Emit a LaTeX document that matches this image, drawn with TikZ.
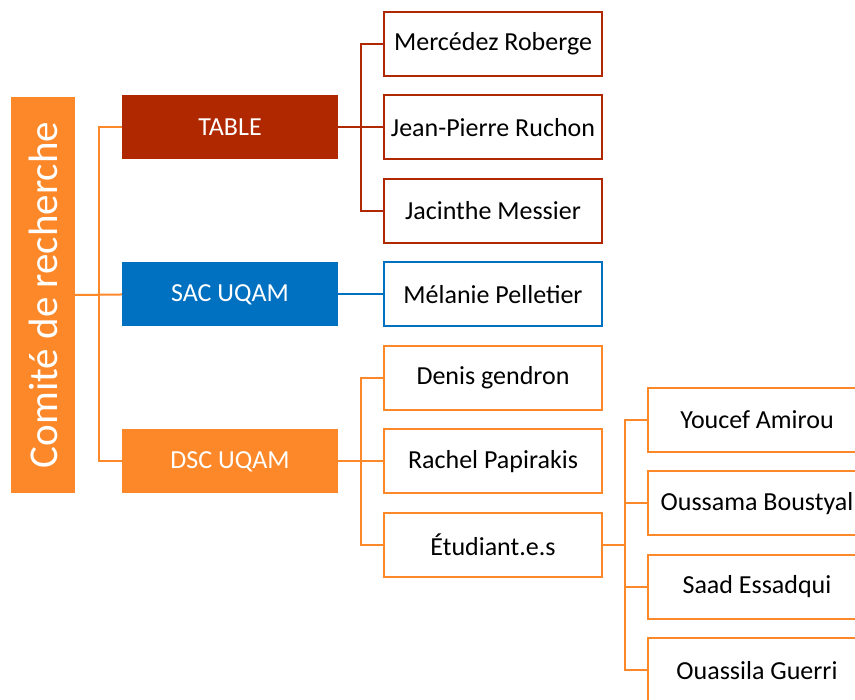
\documentclass[tikz,border=0pt]{standalone}
\usepackage{fontspec}
\setmainfont{Carlito}
\usepackage{xcolor}
\usetikzlibrary{shapes}
\definecolor{tablered}{RGB}{176,40,0}
\definecolor{sacblue}{RGB}{0,112,192}
\definecolor{dscorange}{RGB}{252,136,42}
\tikzstyle{rootbox} = [rectangle, rotate=90, minimum width=396pt, minimum height=64pt, text centered, fill=dscorange, text=white, font=\fontsize{41}{41}\selectfont]
\tikzstyle{groupbox} = [rectangle, minimum width=216pt, minimum height=64pt, text centered, text=white, font=\fontsize{26}{26}\selectfont]
\tikzstyle{namebox} = [rectangle, minimum width=218pt, minimum height=64pt, text centered, fill=white, line width=2pt, font=\fontsize{26}{26}\selectfont]
\tikzstyle{redline} = [line width=2pt, draw=tablered]
\tikzstyle{blueline} = [line width=2pt, draw=sacblue]
\tikzstyle{orangeline} = [line width=2pt, draw=dscorange]

\begin{document}
\begin{tikzpicture}[x=1pt, y=1pt, node distance=83.5pt]
\useasboundingbox (0,0) rectangle (855,700);
\clip (0,0) rectangle (855,700);
%
% Define nodes
%
\node (root) [rootbox] at (43,405) {Comité de recherche};
\node (table) [groupbox, fill=tablered, right of=root, xshift=103.5pt, yshift=167.5pt] {TABLE};
\node (sac) [groupbox, fill=sacblue, below of=table, yshift=-83.5pt] {SAC UQAM};
\node (dsc) [groupbox, fill=dscorange, below of=sac, yshift=-83.5pt] {DSC UQAM};
\node (jean) [namebox, draw=tablered, right of=table, xshift=179.5pt] {Jean-Pierre Ruchon};
\node (merc) [namebox, draw=tablered, above of=jean] {Mercédez Roberge};
\node (jacinthe) [namebox, draw=tablered, below of=jean] {Jacinthe Messier};
\node (melanie) [namebox, draw=sacblue, below of=jacinthe] {Mélanie Pelletier};
\node (denis) [namebox, draw=dscorange, below of=melanie] {Denis gendron};
\node (rachel) [namebox, draw=dscorange, below of=denis] {Rachel Papirakis};
\node (etud) [namebox, draw=dscorange, below of=rachel] {Étudiant.e.s};
\node (oussama) [namebox, draw=dscorange, right of=etud, xshift=180.5pt, yshift=41.75pt] {Oussama Boustyal};
\node (youcef) [namebox, draw=dscorange, above of=oussama] {Youcef Amirou};
\node (saad) [namebox, draw=dscorange, below of=oussama] {Saad Essadqui};
\node (ouassila) [namebox, draw=dscorange, below of=saad] {Ouassila Guerri};
%
% Connect nodes
%
\draw [orangeline] (root.south) -- +(24pt,0) |- (table.west);
\draw [orangeline] (root.south) -- (sac.west);
\draw [orangeline] (root.south) -- +(24pt,0) |- (dsc.west);
\draw [redline] (table.east) -- +(23pt,0) |- (merc.west);
\draw [redline] (table.east) -- (jean.west);
\draw [redline] (table.east) -- +(23pt,0) |- (jacinthe.west);
\draw [blueline] (sac.east) -- (melanie.west);
\draw [orangeline] (dsc.east) -- +(23pt,0) |- (denis.west);
\draw [orangeline] (dsc.east) -- (rachel.west);
\draw [orangeline] (dsc.east) -- +(23pt,0) |- (etud.west);
\draw [orangeline] (etud.east) -- +(22pt,0) |- (youcef.west);
\draw [orangeline] (etud.east) -- +(22pt,0) |- (oussama.west);
\draw [orangeline] (etud.east) -- +(22pt,0) |- (saad.west);
\draw [orangeline] (etud.east) -- +(22pt,0) |- (ouassila.west);
\end{tikzpicture}
\end{document}
